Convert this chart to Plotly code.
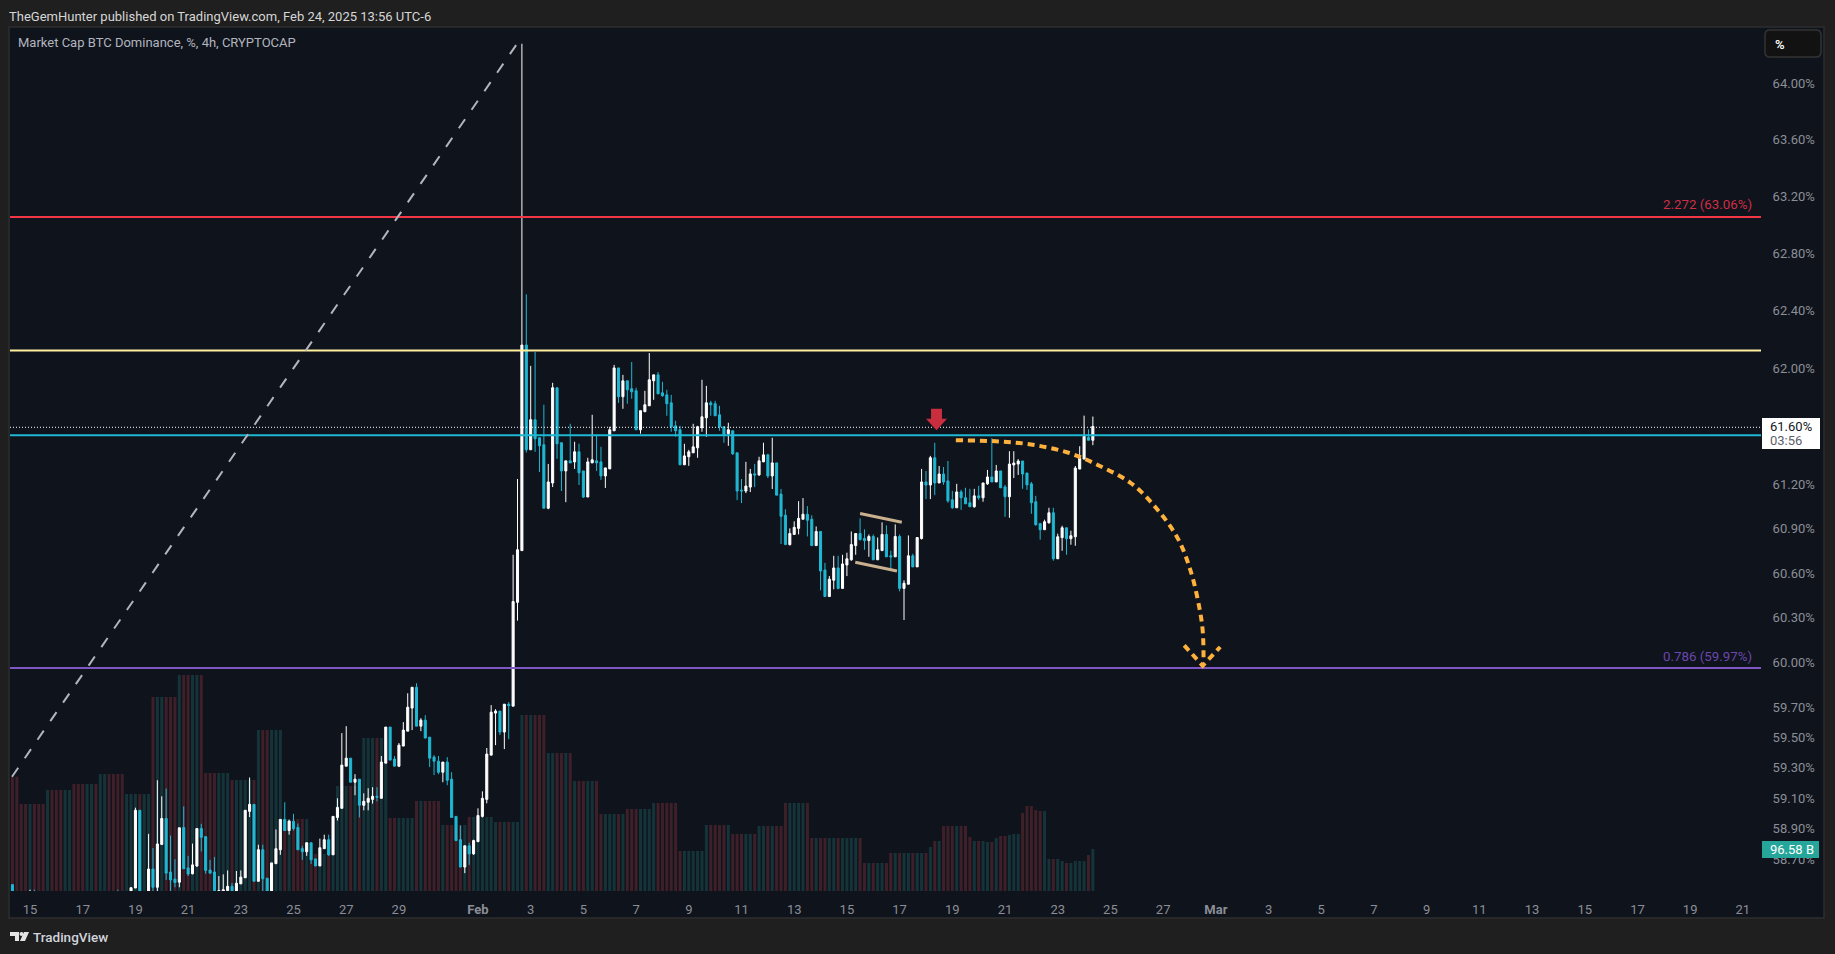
import math
from datetime import datetime, timedelta
import plotly.graph_objects as go

# ---------- values ----------
FIRST_BAR = -4          # bar number of the first candle (bars counted from Jan 15 00:00, 4h each)
d = (58.42, 58.43, 58.36, 58.38)   # candle below the visible range, falling
u = (58.38, 58.43, 58.36, 58.42)   # candle below the visible range, rising

candles_jan_a = [
 (58.539,58.539,58.35,58.40), d, d, d,
 (58.38,58.506,58.35,58.42), (58.42,58.506,58.35,58.38), d, d, u, d, d, d, u, u, d, d, d, u, u, d,
 u, u, d, d, (58.42,58.506,58.35,58.38), d, u,
 (58.42,58.519,58.40,58.519), (58.517,59.043,58.517,59.026), (59.026,59.026,58.42,58.44), u,
 (58.44,58.871,58.42,58.641), (58.641,58.778,58.46,58.522), (58.522,59.224,58.46,58.805),
 (58.802,59.118,58.802,58.972), (58.972,59.169,58.570,58.614), (58.621,58.860,58.46,58.570),
 (58.575,58.705,58.522,58.553), (58.555,58.911,58.522,58.911), (58.913,59.052,58.643,58.643),
 (58.648,58.727,58.595,58.608), (58.610,58.807,58.606,58.668), (58.661,58.906,58.654,58.906),
 (58.906,58.937,58.756,58.849), (58.853,58.853,58.610,58.632), (58.634,58.701,58.614,58.614),
 (58.621,58.720,58.44,58.46), (58.46,58.595,58.44,58.500), (58.47,58.606,58.44,58.506),
 (58.500,58.632,58.495,58.528), (58.528,58.550,58.45,58.47), (58.47,58.628,58.45,58.548),
 (58.544,58.632,58.544,58.588), (58.584,59.026,58.584,59.026), (59.019,59.242,58.981,59.065),
 (59.065,59.065,58.561,58.561), (58.561,58.800,58.561,58.767), (58.767,58.800,58.46,58.577),
 (58.581,58.581,58.46,58.47), (58.47,58.681,58.46,58.681), (58.676,58.900,58.676,58.774),
 (58.767,58.966,58.734,58.966), (58.966,59.079,58.893,58.893), (58.893,58.964,58.866,58.955),
 (58.953,59.003,58.893,58.906), (58.913,58.939,58.767,58.767), (58.774,58.793,58.701,58.754),
 (58.754,58.813,58.727,58.813), (58.813,58.813,58.674,58.701), (58.707,58.707,58.661,58.661),
 (58.661,58.840,58.661,58.780), (58.774,58.866,58.774,58.833), (58.833,58.866,58.727,58.734),
 (58.734,58.986,58.734,58.986), (58.979,59.105,58.959,59.045), (59.039,59.536,59.039,59.324),
]
candles_jan_b = [
 (59.317,59.582,59.317,59.370), (59.370,59.370,59.211,59.211), (59.211,59.264,59.125,59.231),
 (59.231,59.231,58.979,59.059), (59.059,59.138,59.026,59.085), (59.079,59.171,59.026,59.105),
 (59.098,59.178,59.070,59.118), (59.118,59.178,59.085,59.112), (59.105,59.384,59.105,59.344),
 (59.337,59.576,59.337,59.576), (59.576,59.576,59.357,59.357), (59.364,59.384,59.317,59.317),
 (59.317,59.470,59.311,59.456), (59.450,59.609,59.450,59.556), (59.549,59.801,59.549,59.708),
 (59.702,59.841,59.556,59.841), (59.841,59.868,59.582,59.582), (59.582,59.635,59.549,59.622),
 (59.622,59.655,59.503,59.503), (59.509,59.509,59.311,59.370), (59.377,59.390,59.258,59.350),
 (59.350,59.384,59.264,59.277), (59.277,59.344,59.211,59.344), (59.344,59.377,59.191,59.224),
 (59.231,59.277,58.979,58.979), (58.986,58.986,58.827,58.827), (58.833,58.926,58.654,58.654),
 (58.654,58.793,58.614,58.793), (58.793,58.813,58.668,58.740), (58.740,58.833,58.734,58.827),
 (58.820,59.039,58.820,58.992), (58.986,59.151,58.979,59.105), (59.098,59.437,59.072,59.397),
 (59.390,59.722,59.390,59.675), (59.669,59.695,59.456,59.682), (59.682,59.682,59.523,59.543),
 (59.543,59.728,59.430,59.728), (59.728,59.742,59.496,59.719),
]
candles_feb_a = [
 (59.715,60.731,59.715,60.415), (60.410,61.246,60.287,60.765), (60.759,64.29,60.759,62.167),
 (62.167,62.52,61.427,61.446), (61.446,62.023,61.446,61.652), (61.652,62.119,61.432,61.521),
 (61.528,61.528,61.294,61.473), (61.480,61.755,61.047,61.047), (61.047,61.349,61.040,61.226),
 (61.219,61.906,61.191,61.872), (61.872,61.872,61.384,61.487), (61.494,61.494,61.164,61.301),
 (61.301,61.370,61.088,61.370), (61.370,61.624,61.356,61.356), (61.363,61.501,61.315,61.432),
 (61.432,61.487,61.205,61.288), (61.301,61.301,61.116,61.123), (61.123,61.391,61.123,61.363),
 (61.356,61.686,61.356,61.377), (61.370,61.549,61.301,61.356), (61.363,61.466,61.240,61.267),
 (61.267,61.322,61.185,61.322), (61.315,61.604,61.315,61.583), (61.576,62.030,61.576,62.009),
 (62.009,62.009,61.768,61.810), (61.810,61.961,61.727,61.920), (61.920,61.920,61.762,61.858),
 (61.865,62.050,61.796,61.844), (61.851,61.872,61.583,61.583), (61.583,61.714,61.556,61.714),
 (61.707,61.851,61.707,61.755), (61.748,62.112,61.748,61.927), (61.920,61.961,61.789,61.961),
 (61.961,61.981,61.830,61.830), (61.837,61.913,61.810,61.817), (61.823,61.858,61.679,61.762),
 (61.768,61.823,61.569,61.604), (61.610,61.645,61.535,61.576), (61.583,61.610,61.343,61.343),
 (61.343,61.487,61.343,61.404), (61.398,61.446,61.336,61.432), (61.425,61.624,61.425,61.466),
 (61.459,61.610,61.391,61.604), (61.597,61.927,61.569,61.672), (61.665,61.885,61.535,61.768),
 (61.768,61.782,61.679,61.755), (61.762,61.782,61.679,61.679), (61.686,61.748,61.576,61.604),
 (61.604,61.604,61.494,61.549), (61.556,61.631,61.473,61.583), (61.576,61.576,61.411,61.418),
 (61.425,61.425,61.102,61.164), (61.171,61.246,61.082,61.164), (61.164,61.363,61.150,61.198),
 (61.191,61.315,61.157,61.281), (61.281,61.349,61.191,61.274), (61.274,61.398,61.267,61.370),
 (61.363,61.494,61.363,61.411), (61.411,61.418,61.253,61.267), (61.267,61.528,61.178,61.356),
]
candles_feb_b = [
 (61.356,61.356,61.136,61.136), (61.143,61.178,60.804,60.992), (60.999,61.040,60.800,60.800),
 (60.800,60.910,60.793,60.875), (60.869,60.958,60.869,60.917), (60.910,61.095,60.869,60.978),
 (60.972,61.116,60.972,61.006), (61.006,61.061,60.855,60.965), (60.972,60.999,60.793,60.793),
 (60.793,60.923,60.793,60.889), (60.889,60.889,60.491,60.621), (60.628,60.676,60.449,60.449),
 (60.449,60.587,60.449,60.566), (60.559,60.724,60.498,60.642), (60.642,60.724,60.498,60.504),
 (60.504,60.731,60.504,60.669), (60.662,60.745,60.587,60.704), (60.697,60.889,60.690,60.800),
 (60.793,60.875,60.731,60.875), (60.875,60.978,60.827,60.834), (60.841,60.903,60.765,60.827),
 (60.827,60.869,60.717,60.855), (60.855,60.869,60.697,60.697), (60.697,60.848,60.697,60.765),
 (60.759,60.951,60.759,60.869), (60.869,60.930,60.717,60.717), (60.724,60.759,60.621,60.717),
 (60.717,60.937,60.717,60.855), (60.855,60.869,60.484,60.504), (60.504,60.559,60.291,60.539),
 (60.532,60.862,60.532,60.724), (60.724,60.738,60.649,60.649), (60.649,60.848,60.649,60.848),
 (60.841,61.315,60.834,61.226), (61.226,61.301,61.109,61.205), (61.205,61.404,61.109,61.391),
 (61.391,61.494,61.136,61.219), (61.219,61.335,61.219,61.280), (61.280,61.328,61.206,61.226),
 (61.233,61.369,61.084,61.097), (61.104,61.165,61.043,61.050), (61.050,61.213,61.050,61.158),
 (61.158,61.172,61.036,61.118), (61.118,61.186,61.077,61.077), (61.084,61.179,61.057,61.057),
 (61.057,61.179,61.050,61.131), (61.131,61.199,61.104,61.118), (61.118,61.219,61.091,61.219),
 (61.213,61.308,61.206,61.260), (61.260,61.525,61.226,61.226), (61.226,61.342,61.226,61.301),
 (61.301,61.301,61.186,61.186), (61.192,61.206,60.989,61.125), (61.125,61.436,60.982,61.348),
 (61.342,61.436,61.253,61.355), (61.348,61.382,61.274,61.369), (61.369,61.369,61.179,61.280),
 (61.287,61.287,61.172,61.206), (61.213,61.226,61.009,61.084), (61.091,61.131,60.928,60.935),
 (60.942,60.948,60.833,60.901), (60.901,60.969,60.901,60.955), (60.948,61.050,60.942,61.016),
 (61.016,61.050,60.691,60.704), (60.704,60.874,60.704,60.853), (60.847,60.928,60.758,60.914),
 (60.914,60.914,60.731,60.840), (60.840,60.894,60.799,60.860), (60.853,61.335,60.792,61.321),
 (61.314,61.470,61.314,61.389), (61.382,61.680,61.382,61.538), (61.531,61.586,61.511,61.511),
 (61.511,61.674,61.477,61.606),
]

volume_billions = [
 263.0,263.0,
 200.1,200.1,200.1,200.1,200.1,200.1,
 232.3,232.3,232.3,232.3,232.3,232.3,
 246.1,246.1,246.1,246.1,246.1,246.1,
 269.1,269.1,269.1,269.1,269.1,269.1,
 223.1,223.1,223.1,223.1,223.1,223.1,
 446.2,446.2,446.2,446.2,446.2,446.2,
 496.8,496.8,496.8,496.8,496.8,496.8,
 271.4,271.4,271.4,271.4,271.4,271.4,
 255.3,255.3,255.3,255.3,255.3,255.3,
 370.3,370.3,370.3,370.3,370.3,370.3,
 165.6,165.6,165.6,165.6,165.6,165.6,
 85.1,85.1,85.1,85.1,85.1,85.1,
 241.5,241.5,241.5,241.5,241.5,241.5,
 351.9,351.9,351.9,351.9,351.9,351.9,
 167.9,167.9,167.9,167.9,167.9,167.9,
 207.0,207.0,207.0,207.0,207.0,207.0,
 151.8,151.8,151.8,151.8,151.8,151.8,
 170.2,170.2,170.2,170.2,170.2,170.2,
 158.7,158.7,158.7,158.7,158.7,158.7,
 404.8,404.8,404.8,404.8,404.8,404.8,
 317.4,317.4,317.4,317.4,317.4,317.4,
 253.0,253.0,253.0,253.0,253.0,253.0,
 177.1,177.1,177.1,177.1,177.1,177.1,
 188.6,188.6,188.6,188.6,188.6,188.6,
 202.4,202.4,202.4,202.4,202.4,202.4,
 92.0,92.0,92.0,92.0,92.0,92.0,
 151.8,151.8,151.8,151.8,151.8,151.8,
 131.1,131.1,131.1,131.1,131.1,131.1,
 149.5,149.5,149.5,149.5,149.5,149.5,
 202.4,202.4,202.4,202.4,202.4,202.4,
 121.9,121.9,121.9,121.9,121.9,121.9,
 121.9,121.9,121.9,121.9,121.9,121.9,
 64.4,64.4,64.4,64.4,64.4,64.4,
 87.4,87.4,87.4,87.4,87.4,87.4,87.4,87.4,87.4,
 101.2,115.0,115.0,
 149.5,149.5,149.5,149.5,149.5,149.5,
 124.2,115.0,115.0,115.0,112.7,112.7,121.9,126.5,126.5,128.8,131.1,131.1,
 179.4,195.5,195.5,186.3,184.0,184.0,
 73.6,73.6,73.6,69.0,64.4,64.4,69.0,69.0,69.0,82.8,96.58,
]

level_red = 63.06
level_yellow = 62.13
level_cyan = 61.545
level_last = 61.60
level_purple = 59.97

y_tick_values = [64.0,63.6,63.2,62.8,62.4,62.0,61.6,61.2,60.9,60.6,60.3,60.0,59.7,59.5,59.3,59.1,58.9,58.7]
x_tick_dates = ["2025-01-15","2025-01-17","2025-01-19","2025-01-21","2025-01-23","2025-01-25","2025-01-27","2025-01-29",
                "2025-02-01","2025-02-03","2025-02-05","2025-02-07","2025-02-09","2025-02-11","2025-02-13","2025-02-15",
                "2025-02-17","2025-02-19","2025-02-21","2025-02-23","2025-02-25","2025-02-27","2025-03-01","2025-03-03",
                "2025-03-05","2025-03-07","2025-03-09","2025-03-11","2025-03-13","2025-03-15","2025-03-17","2025-03-19","2025-03-21"]
x_tick_labels = ["15","17","19","21","23","25","27","29","<b>Feb</b>","3","5","7","9","11","13","15","17","19","21","23","25","27",
                 "<b>Mar</b>","3","5","7","9","11","13","15","17","19","21"]

# drawings, as bar number and price
fib_bar = [-4.1, 110.9]
fib_price = [59.247, 64.29]
curve_bar = [210.8,219.9,227.9,236.3,243.1,250.7,256.4,261.3,264.3,266.2,267.0,267.2]
curve_price = [61.511,61.504,61.482,61.427,61.342,61.217,61.048,60.844,60.618,60.381,60.223,60.042]
head_bar = [262.8,267.0,271.0]
head_price = [60.121,59.985,60.110]
flag_top_bar = [189.0,198.5]
flag_top_price = [61.011,60.951]
flag_low_bar = [187.9,197.4]
flag_low_price = [60.681,60.621]
marker_bar = [205.15,207.65,207.65,208.8,206.4,204.0,205.15,205.15]
marker_price = [61.728,61.728,61.658,61.658,61.579,61.658,61.658,61.728]

# ---------- layout constants ----------
W, H = 1835, 954
L, R, T, B = 10, 1761, 27, 891
BG, PAGE, EDGE = "#0f131c", "#1f1f1f", "#2e2e2e"
WHITE, CYAN = "#ffffff", "#1fb8d3"
AXIS_TEXT = "#8b8e96"
FONT = "Roboto"

def when(k):
    return datetime(2025, 1, 15) + timedelta(hours=4 * k)
def px(x):
    return (x - L) / (R - L)
def py(y):
    return (B - y) / (B - T)

candles = candles_jan_a + candles_jan_b + candles_feb_a + candles_feb_b
bars = list(range(FIRST_BAR, FIRST_BAR + len(candles)))
times = [when(k) for k in bars]
opens, highs, lows, closes = zip(*candles)
n = min(len(times), len(volume_billions))
vol_colors = ["#15343a" if closes[i] >= opens[i] else "#3f2029" for i in range(n)]

x_range = [when((L - 30) / 4.392), when((R - 30) / 4.392)]

fig = go.Figure()
fig.add_bar(x=times[:n], y=volume_billions[:n], marker=dict(color=vol_colors, line_width=0), yaxis="y", showlegend=False, hoverinfo="skip")

def line(xs, ys, color, width, dash="solid", shape="linear"):
    fig.add_scatter(x=xs, y=ys, mode="lines", yaxis="y2", showlegend=False, hoverinfo="skip",
                    line=dict(color=color, width=width, dash=dash, shape=shape))

for lvl, col, wid, dash in [(level_red, "#f23645", 2, "solid"), (level_yellow, "#fff09e", 2, "solid"),
                            (level_purple, "#7e57c2", 2, "solid")]:
    line(x_range, [lvl, lvl], col, wid, dash)

fig.add_candlestick(x=times, open=opens, high=highs, low=lows, close=closes, yaxis="y2", showlegend=False,
                    increasing=dict(line=dict(color=WHITE, width=1), fillcolor=WHITE),
                    decreasing=dict(line=dict(color=CYAN, width=1), fillcolor=CYAN),
                    whiskerwidth=0, hoverinfo="skip")

line(x_range, [level_cyan, level_cyan], CYAN, 2)
line(x_range, [level_last, level_last], "#ffffff", 1, "1px,2px")
line([when(k) for k in fib_bar], fib_price, "#b2b5be", 2, "11px,11.5px")
line([when(k) for k in flag_top_bar], flag_top_price, "#c9b08e", 3)
line([when(k) for k in flag_low_bar], flag_low_price, "#c9b08e", 3)
line([when(k) for k in curve_bar], curve_price, "#ffb13d", 4, "7px,5px", "spline")
line([when(k) for k in head_bar], head_price, "#ffb13d", 4, "7px,5px")
fig.add_scatter(x=[when(k) for k in marker_bar], y=marker_price, mode="lines", yaxis="y2", fill="toself",
                fillcolor="#c82e3e", line=dict(color="#c82e3e", width=0), showlegend=False, hoverinfo="skip")
# carries the price labels on their own axis
fig.add_scatter(x=x_range, y=[level_last, level_last], mode="lines", yaxis="y3", line=dict(color="rgba(0,0,0,0)", width=0),
                showlegend=False, hoverinfo="skip")

def rect(x0, y0, x1, y1, fill, edge=None, layer="above"):
    return dict(type="rect", xref="paper", yref="paper", x0=px(x0), x1=px(x1), y0=py(y0), y1=py(y1),
                fillcolor=fill, line=dict(color=edge or fill, width=1.5 if edge else 0), layer=layer)

def poly(points, fill):
    path = "M " + " L ".join(f"{px(a):.6f},{py(b):.6f}" for a, b in points) + " Z"
    return dict(type="path", xref="paper", yref="paper", path=path, fillcolor=fill, line=dict(width=0), layer="above")

def rounded(x0, y0, x1, y1, r, fill, edge):
    P = lambda a, b: f"{px(a):.6f},{py(b):.6f}"
    path = (f"M {P(x0 + r, y0)} L {P(x1 - r, y0)} Q {P(x1, y0)} {P(x1, y0 + r)} L {P(x1, y1 - r)} "
            f"Q {P(x1, y1)} {P(x1 - r, y1)} L {P(x0 + r, y1)} Q {P(x0, y1)} {P(x0, y1 - r)} "
            f"L {P(x0, y0 + r)} Q {P(x0, y0)} {P(x0 + r, y0)} Z")
    return dict(type="path", xref="paper", yref="paper", path=path, fillcolor=fill,
                line=dict(color=edge, width=1.5), layer="above")

shapes = [
    rect(9, 27, 1824, 918, BG, EDGE, "below"),
    rounded(1765, 30, 1821, 57, 5, "#121212", "#333333"),
    rect(1762, 418, 1820, 449, "#ffffff"),
    rect(1762, 841, 1819, 858, "#26a69a"),
    poly([(10, 932), (19, 932), (19, 941), (15, 941), (15, 936), (10, 936)], "#e4e4e4"),
    poly([(24, 932), (29, 932), (25, 941), (20, 941)], "#e4e4e4"),
    dict(type="circle", xref="paper", yref="paper", x0=px(19.5), x1=px(23.5), y0=py(936), y1=py(932),
         fillcolor="#e4e4e4", line=dict(width=0), layer="above"),
]

def text(x, y, s, color, size=13, anchor="left", weight=None):
    fig.add_annotation(xref="paper", yref="paper", x=px(x), y=py(y), text=s, showarrow=False, xanchor=anchor, yanchor="middle",
                       font=dict(family=FONT, size=size, color=color, weight=weight), borderpad=0, borderwidth=0)

text(9, 16, "TheGemHunter published on TradingView.com, Feb 24, 2025 13:56 UTC-6", "#d6d6d6", 13)
text(18, 42, "Market Cap BTC Dominance, %, 4h, CRYPTOCAP", "#b2b5be", 13)
text(1775, 44, "%", "#ffffff", 13, weight=600)
text(1752, 205, "2.272 (63.06%)", "#cf2e44", 13.3, "right")
text(1752, 656, "0.786 (59.97%)", "#6a48ad", 13.3, "right")
text(1770, 427, "61.60%", "#131722", 13)
text(1770, 441, "03:56", "#5d606b", 13)
text(1770, 849, "96.58 B", "#ffffff", 13)
text(33, 937, "TradingView", "#d1d4dc", 13.5, weight=500)

ONE_PX = math.exp(1 / 8974)
fig.update_layout(
    width=W, height=H, autosize=False,
    margin=dict(l=L, r=W - R, t=T, b=H - B, pad=0),
    paper_bgcolor=PAGE, plot_bgcolor=BG,
    bargap=0.32, boxgap=0.33,
    shapes=shapes, showlegend=False, hovermode=False,
    font=dict(family=FONT, size=13, color=AXIS_TEXT),
    xaxis=dict(type="date", range=x_range, tickmode="array", tickvals=x_tick_dates, ticktext=x_tick_labels,
               showgrid=False, zeroline=False, showline=False, ticks="outside", ticklen=6, tickcolor="rgba(0,0,0,0)",
               rangeslider=dict(visible=False), tickfont=dict(family=FONT, size=13, color=AXIS_TEXT), tickangle=0),
    yaxis=dict(range=[0, (B - T) * 2.3], visible=False, fixedrange=True),
    yaxis2=dict(type="log", overlaying="y", side="right", showticklabels=False,
                range=[math.log10(58.491 * ONE_PX), math.log10(64.403 * ONE_PX)],
                showgrid=False, zeroline=False, showline=False, ticks=""),
    yaxis3=dict(type="log", overlaying="y", side="right",
                range=[math.log10(58.491), math.log10(64.403)],
                tickmode="array", tickvals=y_tick_values, ticktext=[f"{v:.2f}%" for v in y_tick_values],
                showgrid=False, zeroline=False, showline=False, ticks="outside", ticklen=8, tickcolor="rgba(0,0,0,0)",
                tickfont=dict(family=FONT, size=13, color=AXIS_TEXT)),
)

fig.write_html("out.html", config={"displayModeBar": False},
               post_script="document.body.style.margin='0';document.body.style.background='#1f1f1f';")
